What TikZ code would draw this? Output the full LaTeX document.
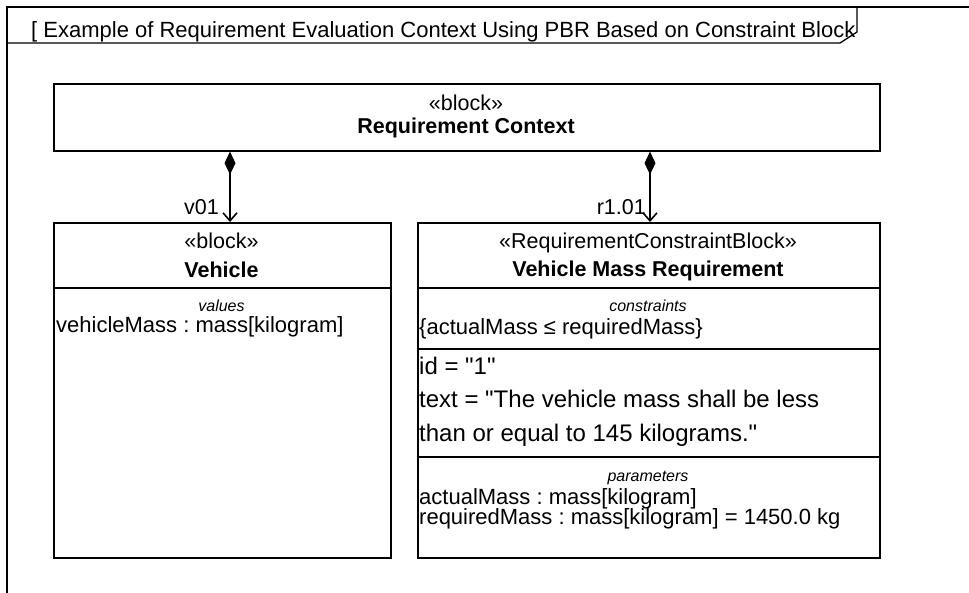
\documentclass[tikz,border=0pt]{standalone}
\usepackage{fontspec}
\setmainfont{Liberation Sans}
\usetikzlibrary{arrows.meta,positioning}
\frenchspacing

\tikzset{
  blockbox/.style={draw, line width=1.6pt, anchor=north west, inner sep=0pt},
  sep/.style={line width=1.6pt},
  stereo/.style={anchor=base, inner sep=0pt, font=\fontsize{21.5}{24}\selectfont},
  bname/.style={anchor=base, inner sep=0pt, font=\fontsize{21.5}{24}\selectfont\bfseries},
  ctitle/.style={anchor=base, inner sep=0pt, font=\fontsize{16}{18}\selectfont\itshape},
  entry/.style={anchor=base west, inner sep=0pt, font=\fontsize{22}{24}\selectfont},
  bigentry/.style={anchor=base west, inner sep=0pt, font=\fontsize{24}{26}\selectfont},
  partof/.style={line width=1.6pt, {Diamond[length=23pt,width=11pt]}-{Straight Barb[length=8pt,width=14pt,line width=1.6pt]}},
}

\begin{document}
\begin{tikzpicture}[x=1pt, y=-1pt]
  \useasboundingbox (0,0) rectangle (969,592);
  \clip (0,0) rectangle (969,592);

  % frame and its name tab
  \draw[line width=1.3pt] (990,7) -- (7,7) -- (7,610);
  \draw[line width=1.3pt] (7,43) -- (840,43) -- (857,32) -- (857,7);
  \node[anchor=base west, inner sep=0pt, font=\fontsize{22}{24}\selectfont] (frametitle) at (31,37)
    {[ Example of Requirement Evaluation Context Using PBR Based on Constraint Block};

  % blocks
  \node[blockbox, minimum width=826, minimum height=67] (ctx) at (53,83) {};
  \node[blockbox, minimum width=337, minimum height=335] (veh) at (53,222) {};
  \node[blockbox, minimum width=462, minimum height=335] (vmr) at (417,222) {};

  % Requirement Context
  \node[stereo] (ctxst) at (466,110) {«block»};
  \node[bname] (ctxname) at (466,133) {Requirement Context};

  % Vehicle
  \node[stereo] (vehst) at (221.5,248) {«block»};
  \node[bname] (vehname) at (221.5,277) {Vehicle};
  \draw[sep] ([yshift=-66pt]veh.north west) -- ([yshift=-66pt]veh.north east);
  \node[ctitle] (vehval) at (221.5,311) {values};
  \node[entry] (vehmass) at (56,332) {vehicleMass : mass[kilogram]};

  % Vehicle Mass Requirement
  \node[stereo] (vmrst) at (648,248) {«RequirementConstraintBlock»};
  \node[bname] (vmrname) at (648,276) {Vehicle Mass Requirement};
  \draw[sep] ([yshift=-66pt]vmr.north west) -- ([yshift=-66pt]vmr.north east);
  \node[ctitle] (vmrcon) at (648,311) {constraints};
  \node[entry] (vmrexpr) at (419,334) {\{actualMass ≤ requiredMass\}};
  \draw[sep] ([yshift=-127pt]vmr.north west) -- ([yshift=-127pt]vmr.north east);
  \node[bigentry] (vmrid) at (419,374) {id = \textquotedbl 1\textquotedbl};
  \node[bigentry] (vmrtext) at (419,407) {text = \textquotedbl The vehicle mass shall be less};
  \node[bigentry] (vmrtext2) at (419,441) {than or equal to 145 kilograms.\textquotedbl};
  \draw[sep] ([yshift=-235pt]vmr.north west) -- ([yshift=-235pt]vmr.north east);
  \node[ctitle] (vmrpar) at (648,481) {parameters};
  \node[entry] (vmract) at (419,504) {actualMass : mass[kilogram]};
  \node[entry] (vmrreq) at (419,524) {requiredMass : mass[kilogram] = 1450.0 kg};

  % part associations
  \coordinate (vtgt) at (230,222);
  \coordinate (rtgt) at (650,222);
  \draw[partof] (ctx.south -| vtgt) -- (vtgt);
  \draw[partof] (ctx.south -| rtgt) -- (rtgt);
  \node[anchor=base east, inner sep=0pt, font=\fontsize{21.5}{24}\selectfont] (v01) at (219,214) {v01};
  \node[anchor=base east, inner sep=0pt, font=\fontsize{21.5}{24}\selectfont] (r101) at (646,214) {r1.01};
\end{tikzpicture}
\end{document}
